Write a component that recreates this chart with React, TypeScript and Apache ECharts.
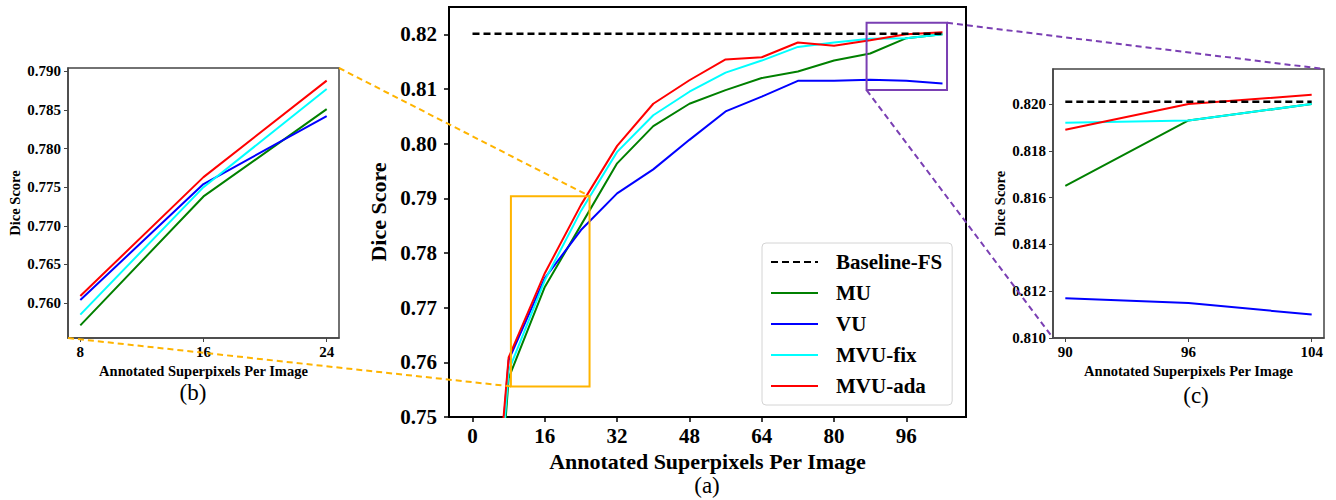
import React, { useEffect, useRef } from "react";
import * as echarts from "echarts";

// ---------- data ----------
const seriesNames = ["Baseline-FS", "MU", "VU", "MVU-fix", "MVU-ada"];
const seriesColors = ["#000000", "#008000", "#0000ff", "#00ffff", "#ff0000"];

// (a) main panel
const mainX = [4, 8, 16, 24, 32, 40, 48, 56, 64, 72, 80, 88, 96, 104];
const mainMU = [0.712, 0.7571, 0.7738, 0.7851, 0.7964, 0.8032, 0.8073, 0.8098, 0.812, 0.8132, 0.8152, 0.8165, 0.8193, 0.82];
const mainVU = [0.719, 0.7604, 0.7754, 0.7842, 0.7909, 0.7953, 0.8007, 0.8059, 0.8086, 0.8115, 0.8115, 0.8117, 0.8115, 0.811];
const mainFix = [0.716, 0.7585, 0.775, 0.7877, 0.7985, 0.8052, 0.8095, 0.813, 0.8152, 0.8177, 0.8185, 0.8192, 0.8193, 0.82];
const mainAda = [0.722, 0.7609, 0.7763, 0.7888, 0.7996, 0.8073, 0.8116, 0.8154, 0.8158, 0.8185, 0.8179, 0.8189, 0.82, 0.8204];
const baselineX = [0, 104];
const baselineValue = 0.8201;
const mainXTicks = [0, 16, 32, 48, 64, 80, 96];
const mainYTicks = [0.75, 0.76, 0.77, 0.78, 0.79, 0.8, 0.81, 0.82];

// (b) zoom on the early part
const bX = [8, 16, 24];
const bMU = [0.7571, 0.7738, 0.7851];
const bVU = [0.7604, 0.7754, 0.7842];
const bFix = [0.7585, 0.775, 0.7877];
const bAda = [0.7609, 0.7763, 0.7888];
const bYTicks = [0.76, 0.765, 0.77, 0.775, 0.78, 0.785, 0.79];

// (c) zoom on the late part (equally spaced positions)
const cLabels = ["90", "96", "104"];
const cMU = [0.8165, 0.8193, 0.82];
const cVU = [0.8117, 0.8115, 0.811];
const cFix = [0.8192, 0.8193, 0.82];
const cAda = [0.8189, 0.82, 0.8204];
const cYTicks = [0.81, 0.812, 0.814, 0.816, 0.818, 0.82];

// ---------- styling / layout ----------
const FONT = "'Liberation Serif', 'Times New Roman', serif";
const bRange = { x: [7.2, 24.8], y: [0.75547, 0.79043] };
const aRange = { x: [-5.2, 109.2], y: [0.75, 0.825] };
const cRange = { x: [-0.1, 2.1], y: [0.81, 0.8215] };
const orangeBox = { x: [8.5, 25.9], y: [0.7556, 0.7904] };
const purpleBox = { x: [87.2, 105], y: [0.8098, 0.8221] };

function makeAxes(
  gi: number,
  xr: number[],
  yr: number[],
  xt: number[],
  yt: number[],
  xfmt: (v: number) => string,
  yfmt: (v: number) => string,
  big: boolean
) {
  const tickFs = big ? 21 : 15;
  const nameFs = big ? 22 : 14.5;
  const axisColor = big ? "#000" : "#444";
  const x = {
    type: "value",
    gridIndex: gi,
    min: xr[0],
    max: xr[1],
    splitLine: { show: false },
    axisLine: { show: true, onZero: false, lineStyle: { color: axisColor, width: big ? 2 : 1.5 } },
    axisTick: { show: true, inside: false, length: big ? 5 : 4, customValues: xt, lineStyle: { color: axisColor, width: big ? 1.5 : 1 } },
    axisLabel: {
      customValues: xt,
      formatter: xfmt,
      fontFamily: FONT,
      fontWeight: "bold",
      fontSize: tickFs,
      color: "#000",
      margin: big ? 8 : 6,
    },
    name: "Annotated Superpixels Per Image",
    nameLocation: "middle",
    nameGap: big ? 32 : 24,
    nameTextStyle: { fontFamily: FONT, fontWeight: "bold", fontSize: nameFs, color: "#000" },
  };
  const y = {
    type: "value",
    gridIndex: gi,
    min: yr[0],
    max: yr[1],
    splitLine: { show: false },
    axisLine: { show: true, onZero: false, lineStyle: { color: axisColor, width: big ? 2 : 1.5 } },
    axisTick: { show: true, inside: false, length: big ? 5 : 4, customValues: yt, lineStyle: { color: axisColor, width: big ? 1.5 : 1 } },
    axisLabel: {
      customValues: yt,
      formatter: yfmt,
      fontFamily: FONT,
      fontWeight: "bold",
      fontSize: tickFs,
      color: "#000",
      margin: big ? 12 : 7,
    },
    name: "Dice Score",
    nameLocation: "middle",
    nameGap: big ? 60 : 46,
    nameTextStyle: { fontFamily: FONT, fontWeight: "bold", fontSize: nameFs, color: "#000" },
  };
  return { x, y };
}

function lineSeries(gi: number, name: string, xs: number[], ys: number[], color: string, dashed = false, width = 2) {
  return {
    type: "line",
    name,
    xAxisIndex: gi,
    yAxisIndex: gi,
    data: xs.map((x, i) => [x, ys[i]]),
    symbol: "none",
    showSymbol: false,
    clip: true,
    lineStyle: { color, width: dashed ? 2.5 : width, type: dashed ? [7, 4] : "solid" },
    itemStyle: { color },
    z: dashed ? 3 : 2,
  };
}

export default function App() {
  const ref = useRef<HTMLDivElement>(null);
  useEffect(() => {
    document.body.style.margin = "0";
    if (!ref.current) return;
    const chart = echarts.init(ref.current, undefined, { renderer: "svg" });

    const bAx = makeAxes(0, bRange.x, bRange.y, bX, bYTicks, (v) => String(v), (v) => v.toFixed(3), false);
    const aAx = makeAxes(1, aRange.x, aRange.y, mainXTicks, mainYTicks, (v) => String(v), (v) => v.toFixed(2), true);
    const cIdx = cLabels.map((_, i) => i);
    const cAx = makeAxes(2, cRange.x, cRange.y, cIdx, cYTicks, (v) => cLabels[Math.round(v)], (v) => v.toFixed(3), false);

    const series: any[] = [];
    // main
    series.push(lineSeries(1, seriesNames[0], baselineX, baselineX.map(() => baselineValue), seriesColors[0], true));
    series.push(lineSeries(1, seriesNames[1], mainX, mainMU, seriesColors[1]));
    series.push(lineSeries(1, seriesNames[2], mainX, mainVU, seriesColors[2]));
    series.push(lineSeries(1, seriesNames[3], mainX, mainFix, seriesColors[3]));
    series.push(lineSeries(1, seriesNames[4], mainX, mainAda, seriesColors[4]));
    // (b)
    series.push(lineSeries(0, seriesNames[1], bX, bMU, seriesColors[1]));
    series.push(lineSeries(0, seriesNames[2], bX, bVU, seriesColors[2]));
    series.push(lineSeries(0, seriesNames[3], bX, bFix, seriesColors[3]));
    series.push(lineSeries(0, seriesNames[4], bX, bAda, seriesColors[4]));
    // (c)
    series.push(lineSeries(2, seriesNames[0], cIdx, cIdx.map(() => baselineValue), seriesColors[0], true));
    series.push(lineSeries(2, seriesNames[1], cIdx, cMU, seriesColors[1]));
    series.push(lineSeries(2, seriesNames[2], cIdx, cVU, seriesColors[2]));
    series.push(lineSeries(2, seriesNames[3], cIdx, cFix, seriesColors[3]));
    series.push(lineSeries(2, seriesNames[4], cIdx, cAda, seriesColors[4]));

    const gridBase = { show: true, backgroundColor: "#fff", containLabel: false };
    chart.setOption({
      animation: false,
      backgroundColor: "#fff",
      grid: [
        { ...gridBase, left: 68, top: 68, width: 271, height: 270, borderColor: "#444", borderWidth: 1.5 },
        { ...gridBase, left: 449, top: 7, width: 517, height: 410, borderColor: "#000", borderWidth: 2 },
        { ...gridBase, left: 1053, top: 69, width: 271, height: 269, borderColor: "#444", borderWidth: 1.5 },
      ],
      xAxis: [bAx.x, aAx.x, cAx.x],
      yAxis: [bAx.y, aAx.y, cAx.y],
      legend: {
        data: seriesNames,
        orient: "vertical",
        left: 762,
        top: 243,
        itemWidth: 47,
        itemHeight: 14,
        itemGap: 9,
        padding: [8, 10, 8, 8],
        backgroundColor: "#fff",
        borderColor: "#d4d4d4",
        borderWidth: 1,
        borderRadius: 4,
        selectedMode: false,
        itemStyle: { opacity: 0 },
        textStyle: { fontFamily: FONT, fontWeight: "bold", fontSize: 21, color: "#000", lineHeight: 22, padding: [0, 0, 0, 13] },
      },
      series,
    });

    const px = (gi: number, x: number, y: number) => chart.convertToPixel({ gridIndex: gi } as any, [x, y]) as number[];
    const oTL = px(1, orangeBox.x[0], orangeBox.y[1]);
    const oBR = px(1, orangeBox.x[1], orangeBox.y[0]);
    const pTL = px(1, purpleBox.x[0], purpleBox.y[1]);
    const pBR = px(1, purpleBox.x[1], purpleBox.y[0]);
    const bTR = px(0, bRange.x[1], bRange.y[1]);
    const bBL = px(0, bRange.x[0], bRange.y[0]);
    const cTR = px(2, cRange.x[1], cRange.y[1]);
    const cBL = px(2, cRange.x[0], cRange.y[0]);
    const orange = "#ffb400";
    const purple = "#7a3fb3";
    const dashLine = (x1: number, y1: number, x2: number, y2: number, color: string) => ({
      type: "line",
      z: 100,
      silent: true,
      shape: { x1, y1, x2, y2 },
      style: { stroke: color, lineWidth: 2, lineDash: [6, 4] },
    });
    const caption = (text: string, x: number, y: number) => ({
      type: "text",
      z: 100,
      x,
      y,
      style: { text, fontFamily: FONT, fontSize: 23, fill: "#000", align: "center", verticalAlign: "middle" },
    });
    chart.setOption({
      graphic: [
        {
          type: "rect",
          z: 90,
          silent: true,
          shape: { x: oTL[0], y: oTL[1], width: oBR[0] - oTL[0], height: oBR[1] - oTL[1] },
          style: { fill: "none", stroke: orange, lineWidth: 2 },
        },
        {
          type: "rect",
          z: 90,
          silent: true,
          shape: { x: pTL[0], y: pTL[1], width: pBR[0] - pTL[0], height: pBR[1] - pTL[1] },
          style: { fill: "none", stroke: purple, lineWidth: 2 },
        },
        dashLine(bTR[0], bTR[1], oBR[0], oTL[1], orange),
        dashLine(bBL[0], bBL[1], oTL[0], oBR[1], orange),
        dashLine(pBR[0], pTL[1], cTR[0], cTR[1], purple),
        dashLine(pTL[0], pBR[1], cBL[0], cBL[1], purple),
        caption("(a)", 707, 485),
        caption("(b)", 193, 392),
        caption("(c)", 1196, 395),
      ],
    });

    return () => chart.dispose();
  }, []);
  return <div ref={ref} style={{ width: 1336, height: 500 }} />;
}
